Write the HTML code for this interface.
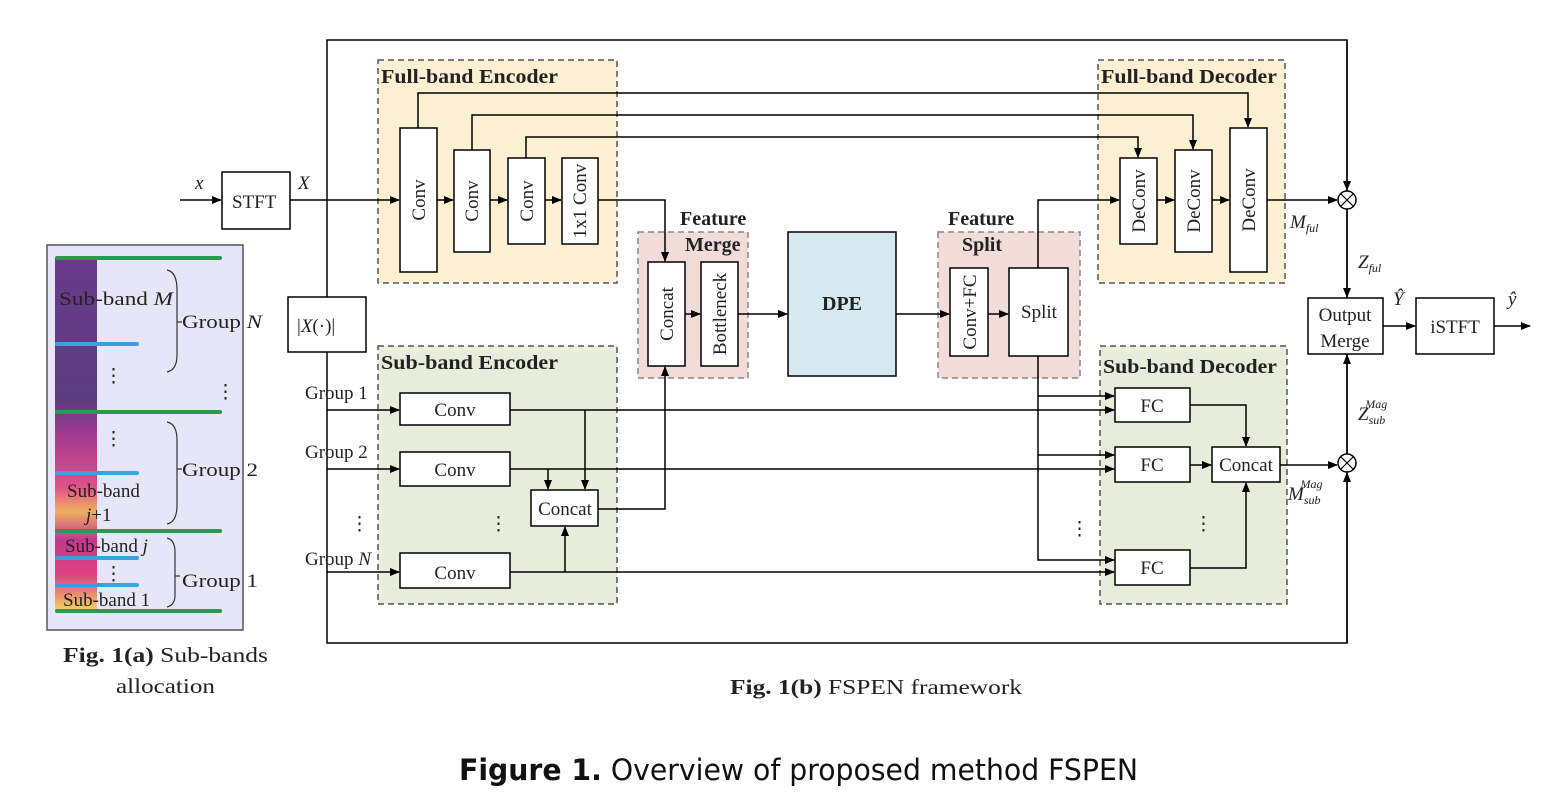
<!DOCTYPE html>
<html><head><meta charset="utf-8"><style>body{margin:0;background:#fff}svg{display:block}</style></head><body>
<svg width="1562" height="806" viewBox="0 0 1562 806" xmlns="http://www.w3.org/2000/svg" font-family="Liberation Serif, serif" font-size="19">
<defs>
<marker id="a" markerWidth="10" markerHeight="10" refX="9" refY="5" orient="auto" markerUnits="userSpaceOnUse"><path d="M0,1 L10,5 L0,9 z" fill="#000"/></marker>
<linearGradient id="sp" x1="0" y1="0" x2="0" y2="1">
<stop offset="0" stop-color="#6a3a8a"/><stop offset="0.4" stop-color="#5a3d80"/><stop offset="0.5" stop-color="#a03a90"/><stop offset="0.65" stop-color="#e0508a"/><stop offset="0.72" stop-color="#f0b060"/><stop offset="0.8" stop-color="#c03a90"/><stop offset="0.9" stop-color="#e04080"/><stop offset="1" stop-color="#f0d060"/></linearGradient>
</defs>
<g stroke="#000" stroke-width="1.5" fill="none">
<rect x="47" y="245" width="196" height="385" fill="#e7e6f8" stroke="#555"/>
<rect x="55" y="258" width="42" height="352" fill="url(#sp)" stroke="none"/>
<rect x="327" y="40" width="1020" height="603"/>
<rect x="378" y="60" width="239" height="223" fill="#fdf0d2" stroke="#555" stroke-dasharray="6,4"/>
<rect x="1098" y="60" width="187" height="223" fill="#fdf0d2" stroke="#555" stroke-dasharray="6,4"/>
<rect x="378" y="346" width="239" height="258" fill="#e7edda" stroke="#555" stroke-dasharray="6,4"/>
<rect x="1100" y="346" width="187" height="258" fill="#e7edda" stroke="#555" stroke-dasharray="6,4"/>
<rect x="638" y="232" width="110" height="146" fill="#f2dcd8" stroke="#888" stroke-dasharray="6,4"/>
<rect x="938" y="232" width="142" height="146" fill="#f2dcd8" stroke="#888" stroke-dasharray="6,4"/>
<rect x="788" y="232" width="108" height="144" fill="#d6e9f0"/>
</g>
<g stroke-width="4" stroke-linecap="round">
<line x1="57" y1="258" x2="220" y2="258" stroke="#2a9a50"/>
<line x1="57" y1="412" x2="220" y2="412" stroke="#2a9a50"/>
<line x1="57" y1="531" x2="220" y2="531" stroke="#2a9a50"/>
<line x1="57" y1="611" x2="220" y2="611" stroke="#2a9a50"/>
<line x1="57" y1="344" x2="137" y2="344" stroke="#3aa0e0"/>
<line x1="57" y1="473" x2="137" y2="473" stroke="#3aa0e0"/>
<line x1="57" y1="558" x2="137" y2="558" stroke="#3aa0e0"/>
<line x1="57" y1="585" x2="137" y2="585" stroke="#3aa0e0"/>
</g>
<g fill="none" stroke="#333" stroke-width="1.2">
<path d="M167,270 Q177,272 177,290 L177,355 Q177,370 167,372 M177,322 L182,322"/>
<path d="M167,422 Q177,424 177,440 L177,505 Q177,522 167,524 M177,469 L182,469"/>
<path d="M167,538 Q175,540 175,552 L175,595 Q175,605 167,607 M175,576 L180,576"/>
</g>
<g font-size="19" fill="#222">
<text x="59" y="305" textLength="114" lengthAdjust="spacingAndGlyphs">Sub-band <tspan font-style="italic">M</tspan></text>
<text x="182" y="328" textLength="80" lengthAdjust="spacingAndGlyphs">Group <tspan font-style="italic">N</tspan></text>
<text x="104" y="382">⋮</text><text x="216" y="398">⋮</text><text x="104" y="445">⋮</text>
<text x="182" y="476" textLength="76" lengthAdjust="spacingAndGlyphs">Group 2</text>
<text x="67" y="497">Sub-band</text><text x="86" y="521"><tspan font-style="italic">j</tspan>+1</text>
<text x="65" y="552">Sub-band <tspan font-style="italic">j</tspan></text>
<text x="104" y="580">⋮</text>
<text x="182" y="587" textLength="76" lengthAdjust="spacingAndGlyphs">Group 1</text>
<text x="63" y="606">Sub-band 1</text>
</g>
<g stroke="#000" stroke-width="1.5" fill="#fff">
<rect x="222" y="172" width="68" height="57"/>
<rect x="288" y="297" width="78" height="55"/>
<rect x="400" y="128" width="37" height="144"/>
<rect x="454" y="150" width="36" height="102"/>
<rect x="508" y="158" width="37" height="86"/>
<rect x="562" y="158" width="36" height="86"/>
<rect x="1120" y="158" width="37" height="86"/>
<rect x="1175" y="150" width="37" height="102"/>
<rect x="1230" y="128" width="37" height="144"/>
<rect x="648" y="262" width="37" height="104"/>
<rect x="701" y="262" width="37" height="104"/>
<rect x="950" y="268" width="38" height="88"/>
<rect x="1009" y="268" width="59" height="88"/>
<rect x="400" y="393" width="110" height="32"/>
<rect x="400" y="452" width="110" height="34"/>
<rect x="400" y="553" width="110" height="35"/>
<rect x="531" y="490" width="67" height="36"/>
<rect x="1115" y="388" width="75" height="34"/>
<rect x="1115" y="447" width="75" height="35"/>
<rect x="1115" y="550" width="75" height="35"/>
<rect x="1212" y="447" width="68" height="35"/>
<rect x="1308" y="298" width="75" height="56"/>
<rect x="1416" y="298" width="78" height="56"/>
<circle cx="1347" cy="200" r="9"/>
<circle cx="1347" cy="463" r="9"/>
</g>
<g stroke="#000" stroke-width="1.2">
<path d="M1341,194 L1353,206 M1353,194 L1341,206 M1341,457 L1353,469 M1353,457 L1341,469"/>
</g>
<g stroke="#000" stroke-width="1.5" fill="none" marker-end="url(#a)">
<path d="M180,200 L221,200"/>
<path d="M290,200 L399,200"/>
<path d="M437,200 L453,200"/><path d="M490,200 L507,200"/><path d="M545,200 L561,200"/>
<path d="M598,200 L665,200 L665,261"/>
<path d="M418,128 L418,93 L1248,93 L1248,127"/>
<path d="M472,150 L472,115 L1193,115 L1193,149"/>
<path d="M526,158 L526,137 L1138,137 L1138,157"/>
<path d="M1038,268 L1038,200 L1119,200"/>
<path d="M1157,200 L1174,200"/><path d="M1212,200 L1229,200"/>
<path d="M1267,200 L1337,200"/>
<path d="M1347,93 L1347,190"/>
<path d="M1347,209 L1347,297"/>
<path d="M1383,326 L1415,326"/>
<path d="M1494,326 L1530,326"/>
<path d="M685,314 L700,314"/>
<path d="M738,314 L787,314"/>
<path d="M896,314 L949,314"/>
<path d="M988,314 L1008,314"/>
<path d="M327,410 L399,410"/><path d="M327,469 L399,469"/><path d="M327,572 L399,572"/>
<path d="M510,410 L1114,410"/>
<path d="M510,469 L1114,469"/>
<path d="M510,572 L1114,572"/>
<path d="M585,410 L585,489"/>
<path d="M548,469 L548,489"/>
<path d="M565,572 L565,527"/>
<path d="M598,509 L665,509 L665,367"/>
<path d="M1038,356 L1038,396 L1114,396"/>
<path d="M1038,396 L1038,455 L1114,455"/>
<path d="M1038,455 L1038,560 L1114,560"/>
<path d="M1190,405 L1246,405 L1246,446"/>
<path d="M1190,465 L1211,465"/>
<path d="M1190,568 L1246,568 L1246,483"/>
<path d="M1280,465 L1337,465"/>
<path d="M1347,643 L1347,473"/>
<path d="M1347,453 L1347,355"/>
</g>
<line x1="1347" y1="40" x2="1347" y2="93" stroke="#000" stroke-width="1.5"/>
<g font-weight="bold" font-size="20" fill="#222">
<text x="381" y="83" textLength="177" lengthAdjust="spacingAndGlyphs">Full-band Encoder</text>
<text x="1101" y="83" textLength="176" lengthAdjust="spacingAndGlyphs">Full-band Decoder</text>
<text x="381" y="369" textLength="177" lengthAdjust="spacingAndGlyphs">Sub-band Encoder</text>
<text x="1103" y="373" textLength="174" lengthAdjust="spacingAndGlyphs">Sub-band Decoder</text>
<text x="680" y="225">Feature</text><text x="685" y="251">Merge</text>
<text x="948" y="225">Feature</text><text x="962" y="251">Split</text>
<text x="842" y="310" text-anchor="middle">DPE</text>
</g>
<g font-size="19" fill="#222">
<text x="195" y="189" font-style="italic">x</text>
<text x="232" y="208">STFT</text>
<text x="298" y="189" font-style="italic">X</text>
<text x="297" y="332">|<tspan font-style="italic">X</tspan>(·)|</text>
<text transform="translate(425,200) rotate(-90)" text-anchor="middle">Conv</text>
<text transform="translate(478,201) rotate(-90)" text-anchor="middle">Conv</text>
<text transform="translate(533,201) rotate(-90)" text-anchor="middle">Conv</text>
<text transform="translate(586,201) rotate(-90)" text-anchor="middle">1x1 Conv</text>
<text transform="translate(1145,201) rotate(-90)" text-anchor="middle">DeConv</text>
<text transform="translate(1200,201) rotate(-90)" text-anchor="middle">DeConv</text>
<text transform="translate(1255,200) rotate(-90)" text-anchor="middle">DeConv</text>
<text transform="translate(673,314) rotate(-90)" text-anchor="middle">Concat</text>
<text transform="translate(726,314) rotate(-90)" text-anchor="middle">Bottleneck</text>
<text transform="translate(976,312) rotate(-90)" text-anchor="middle">Conv+FC</text>
<text x="1039" y="318" text-anchor="middle">Split</text>
<text x="455" y="416" text-anchor="middle">Conv</text>
<text x="455" y="476" text-anchor="middle">Conv</text>
<text x="455" y="579" text-anchor="middle">Conv</text>
<text x="565" y="515" text-anchor="middle">Concat</text>
<text x="1152" y="412" text-anchor="middle">FC</text>
<text x="1152" y="471" text-anchor="middle">FC</text>
<text x="1152" y="574" text-anchor="middle">FC</text>
<text x="1246" y="471" text-anchor="middle">Concat</text>
<text x="1345" y="321" text-anchor="middle">Output</text>
<text x="1345" y="347" text-anchor="middle">Merge</text>
<text x="1455" y="333" text-anchor="middle">iSTFT</text>
<text x="305" y="399">Group 1</text>
<text x="305" y="458">Group 2</text>
<text x="305" y="565">Group <tspan font-style="italic">N</tspan></text>
<text x="350" y="530">⋮</text><text x="489" y="530">⋮</text><text x="1070" y="535">⋮</text><text x="1194" y="530">⋮</text>
<text x="1290" y="228" font-style="italic">M<tspan font-size="12" dy="4">ful</tspan></text>
<text x="1358" y="268" font-style="italic">Z<tspan font-size="12" dy="4">ful</tspan></text>
<text x="1393" y="305" font-style="italic">Ŷ</text>
<text x="1508" y="305" font-style="italic">ŷ</text>
<text x="1358" y="420" font-style="italic">Z<tspan font-size="12" dy="4">sub</tspan><tspan font-size="12" dx="-20" dy="-16">Mag</tspan></text>
<text x="1288" y="500" font-style="italic">M<tspan font-size="12" dy="4">sub</tspan><tspan font-size="12" dx="-20" dy="-16">Mag</tspan></text>
<text x="63" y="662" textLength="205" lengthAdjust="spacingAndGlyphs" font-size="21"><tspan font-weight="bold">Fig. 1(a)</tspan> Sub-bands</text>
<text x="116" y="693" textLength="99" lengthAdjust="spacingAndGlyphs" font-size="21">allocation</text>
<text x="730" y="694" textLength="292" lengthAdjust="spacingAndGlyphs" font-size="21"><tspan font-weight="bold">Fig. 1(b)</tspan> FSPEN framework</text>
</g>
<text x="459" y="780" textLength="679" lengthAdjust="spacingAndGlyphs" font-family="DejaVu Sans, sans-serif" font-size="29" fill="#111"><tspan font-weight="bold">Figure 1.</tspan> Overview of proposed method FSPEN</text>
</svg>
</body></html>
